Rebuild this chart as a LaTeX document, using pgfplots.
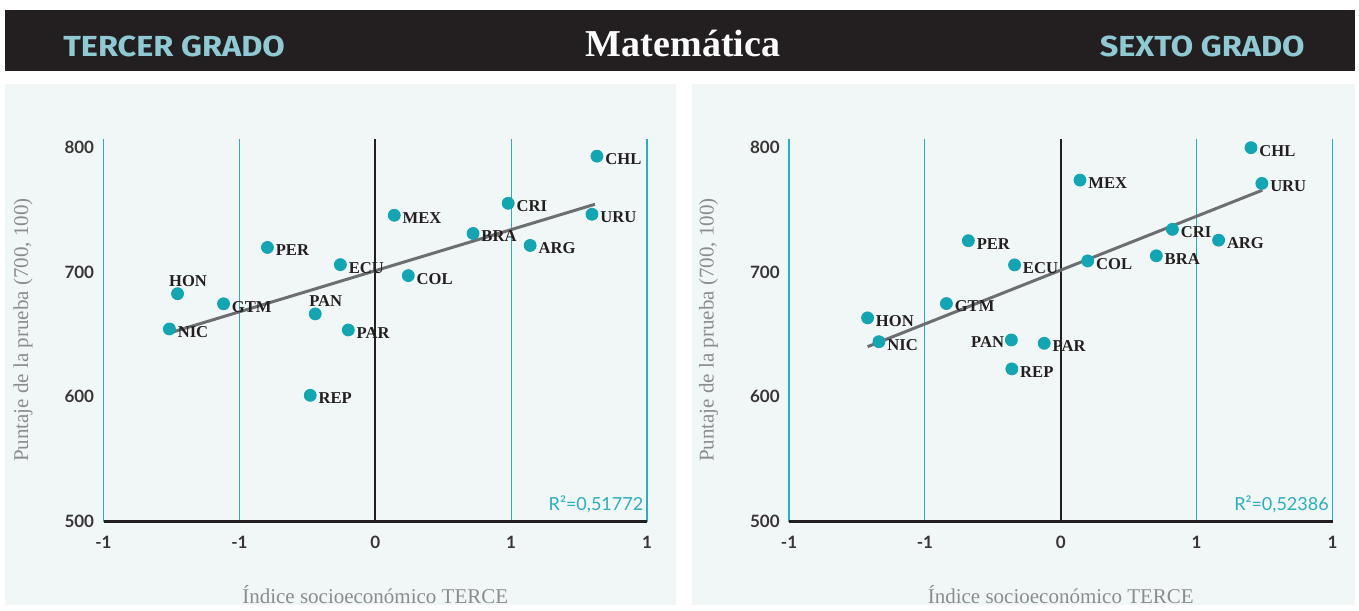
\documentclass[border=0pt]{standalone}
\usepackage{fontspec}
\setmainfont{Liberation Serif}
\newfontfamily\lato{Lato}
\newfontfamily\fira{Fira Sans}
\usepackage{graphicx}
\usepackage{pgfplots}
\usepackage{pgfplotstable}
\pgfplotsset{compat=1.18}

\definecolor{band}{HTML}{231F20}
\definecolor{panel}{HTML}{F1F7F7}
\definecolor{dot}{HTML}{12A5B2}
\definecolor{gridteal}{HTML}{2AAFC0}
\definecolor{grade}{HTML}{8FC9D3}
\definecolor{fitgray}{HTML}{6D6E71}
\definecolor{labgray}{HTML}{8A8C8E}
\definecolor{ink}{HTML}{231F20}

% tercer grado (label to the right of the dot)
\pgfplotstableread{
label x y
CHL 0.979 793.0
URU 0.957 746.4
CRI 0.587 755.2
MEX 0.084 745.6
BRA 0.432 731.0
ARG 0.684 721.4
PER -0.476 719.8
ECU -0.154 706.0
COL 0.146 697.2
GTM -0.670 674.6
NIC -0.909 654.4
PAR -0.119 653.6
REP -0.287 601.2
}\tercer
% tercer grado (label above the dot)
\pgfplotstableread{
label x y
HON -0.873 682.7
PAN -0.265 666.5
}\tercerup

% sexto grado (label to the right of the dot)
\pgfplotstableread{
label x y
CHL 0.840 799.8
URU 0.888 771.1
MEX 0.085 773.8
CRI 0.493 734.3
ARG 0.697 725.6
PER -0.408 725.2
BRA 0.422 713.1
ECU -0.204 705.8
COL 0.119 709.0
GTM -0.505 674.8
HON -0.853 663.3
NIC -0.803 644.2
PAR -0.073 642.9
REP -0.216 622.4
}\sexto
% sexto grado (label to the left of the dot)
\pgfplotstableread{
label x y
PAN -0.218 645.6
}\sextoleft

\pgfplotsset{
  scatterpanel/.style={
    scale only axis, width=271.75pt, height=191.4pt,
    xmin=-1.2, xmax=1.2, ymin=500, ymax=807,
    axis line style={draw=none},
    xtick={-1.2,-0.6,0,0.6,1.2}, xticklabels={-1,-1,0,1,1},
    ytick={500,600,700,800},
    major tick length=0pt,
    xmajorgrids, grid style={gridteal, line width=0.6pt},
    /pgf/number format/assume math mode=true,
    tick label style={font=\lato\bfseries\fontsize{8.5}{9}\selectfont, text=ink!90},
    xticklabel style={anchor=north, inner sep=0pt, yshift=-7pt},
    yticklabel style={anchor=east, inner sep=0pt, xshift=-4.5pt},
    xlabel={Índice socioeconómico TERCE},
    ylabel={Puntaje de la prueba (700, 100)},
    label style={font=\fontsize{10.5}{12}\selectfont, text=labgray},
    xlabel style={at={(axis description cs:0.5,-0.19)}, anchor=center},
    ylabel style={at={(axis description cs:-0.148,0.5)}, anchor=center},
    clip=false,
  },
  countries/.style={
    only marks, mark=*, mark size=3pt, mark options={fill=dot, draw=dot},
    nodes near coords, point meta=explicit symbolic,
    every node near coord/.append style={inner sep=0pt,
      font=\bfseries\fontsize{8.3}{9}\selectfont, text=ink},
  },
  labright/.style={every node near coord/.append style={anchor=west, xshift=4pt, yshift=-1.5pt}},
  labup/.style={every node near coord/.append style={anchor=south, xshift=5.25pt, yshift=3.5pt}},
  lableft/.style={every node near coord/.append style={anchor=east, xshift=-3.5pt, yshift=-1pt}},
}

\begin{document}
\begin{tikzpicture}
\begin{scope}[x=0.5pt, y=0.5pt]
\useasboundingbox (0,0) rectangle (1359,605);
\fill[white] (0,0) rectangle (1359,605);
\fill[band] (5,534.3) rectangle (1355,595);
\fill[panel] (5,0) rectangle (676,521);
\fill[panel] (692,0) rectangle (1355,521);

\node[anchor=base west, inner sep=0pt, text=grade] at (63,548)
  {\scalebox{1.12}[1]{\fira\bfseries\fontsize{14.5}{16}\selectfont TERCER GRADO}};
\node[anchor=base east, inner sep=0pt, text=grade] at (1305,548)
  {\scalebox{1.12}[1]{\fira\bfseries\fontsize{14.5}{16}\selectfont SEXTO GRADO}};
\node[anchor=base, inner sep=0pt, text=white, font=\bfseries\fontsize{19}{22}\selectfont] at (683,548.3) {Matemática};
\end{scope}

\begin{axis}[scatterpanel, at={(51.75pt,41.75pt)}, anchor=south west]
  \draw[ink, line width=1pt] (axis cs:0,500) -- (axis cs:0,807);
  \draw[ink, line width=1.5pt] (axis cs:-1.2,500) -- (axis cs:1.2,500);
  \addplot[countries, labright] table[x=x, y=y, meta=label] {\tercer};
  \addplot[countries, labup] table[x=x, y=y, meta=label] {\tercerup};
  \addplot[fitgray, line width=1.5pt] coordinates {(-0.909,651.2) (0.970,754.4)};
  \node[anchor=base east, inner sep=0pt, text=gridteal, font=\lato\fontsize{9}{10}\selectfont]
    at (axis cs:1.185,508.7) {R²=0,51772};
\end{axis}

\begin{axis}[scatterpanel, at={(394.5pt,41.75pt)}, anchor=south west]
  \draw[ink, line width=1pt] (axis cs:0,500) -- (axis cs:0,807);
  \draw[ink, line width=1.5pt] (axis cs:-1.2,500) -- (axis cs:1.2,500);
  \addplot[countries, labright] table[x=x, y=y, meta=label] {\sexto};
  \addplot[countries, lableft] table[x=x, y=y, meta=label] {\sextoleft};
  \addplot[fitgray, line width=1.5pt] coordinates {(-0.853,640.2) (0.890,765.7)};
  \node[anchor=base east, inner sep=0pt, text=gridteal, font=\lato\fontsize{9}{10}\selectfont]
    at (axis cs:1.185,508.7) {R²=0,52386};
\end{axis}
\end{tikzpicture}
\end{document}
